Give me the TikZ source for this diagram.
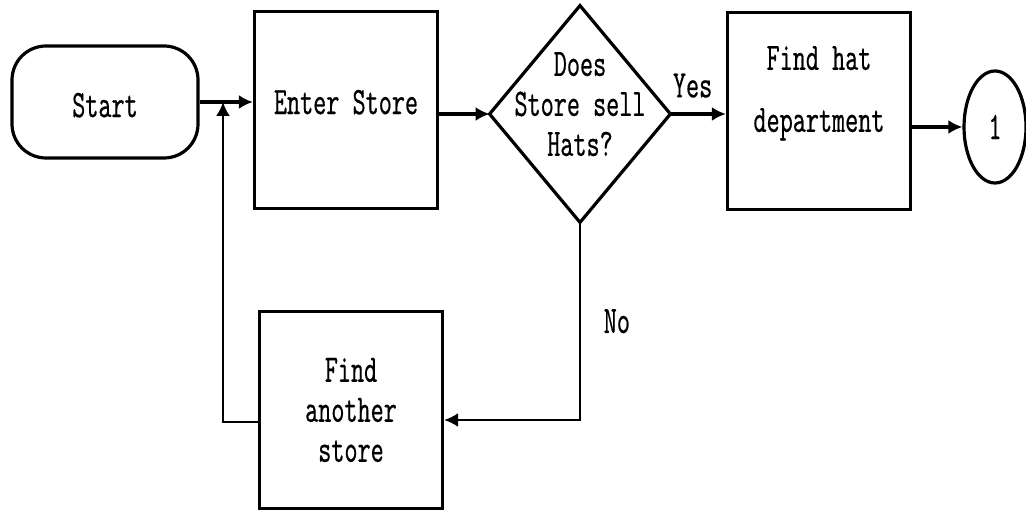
\documentclass[tikz,border=0pt]{standalone}
\usepackage{fontspec}
\usepackage{tikz}
\usetikzlibrary{arrows.meta,shapes.geometric}
\newfontfamily\typer[FakeStretch=0.64,FakeBold=0.35]{lmmono10-regular.otf}

\begin{document}
\begin{tikzpicture}[x=.5pt,y=-.5pt,
  every node/.style={font=\typer\fontsize{19.5}{20}\selectfont,align=center},
  procbox/.style={draw,line width=1.6pt,minimum width=91.5pt,minimum height=98.5pt,inner sep=0pt},
  flow/.style={line width=1.7pt,-{Latex[length=7pt,width=7pt]}},
  thinflow/.style={line width=1.1pt,-{Latex[length=7pt,width=7pt]}}]
\path[use as bounding box] (0,0) rectangle (1026,512);
\path[fill=white,draw=none] (0,0) rectangle (1026,512);
% top row
\node[draw,line width=1.6pt,rounded corners=17pt,minimum width=93pt,minimum height=56pt,inner sep=0pt,text depth=0pt] (start) at (105,102) {\raisebox{-3pt}{Start}};
\node[procbox,text depth=8pt] (enter) at (346,110) {Enter Store};
\node[minimum width=90pt,minimum height=108pt,inner sep=0pt,text depth=10pt] (ask) at (580,114) {Does\\Store sell\\Hats?};
\draw[line width=1.6pt] (ask.north) -- (ask.east) -- (ask.south) -- (ask.west) -- cycle;
\node[procbox,text depth=22pt] (hat) at (819,111) {Find hat\\[11pt]department};
\node[draw,ellipse,line width=1.6pt,minimum width=31pt,minimum height=56pt,inner sep=0pt] (conn) at (995,127) {1};
% bottom row
\node[procbox] (other) at (351,410) {Find\\another\\store};
\coordinate (join) at (start.east -| 223,0);
% connectors
\draw[flow] (start.east) -- (start.east -| enter.west);
\draw[thinflow] ([yshift=-6pt]other.west) -| (join);
\draw[flow] (enter.east |- ask.west) -- (ask.west);
\draw[flow] (ask.east) -- node[above=4pt,pos=0.4] (yes) {Yes} (ask.east -| hat.west);
\draw[flow] (hat.east |- conn.west) -- (conn.west);
\draw[thinflow] (ask.south) |- node[pos=0.25,right=8pt] (no) {No} ([yshift=-5pt]other.east);
\end{tikzpicture}
\end{document}
